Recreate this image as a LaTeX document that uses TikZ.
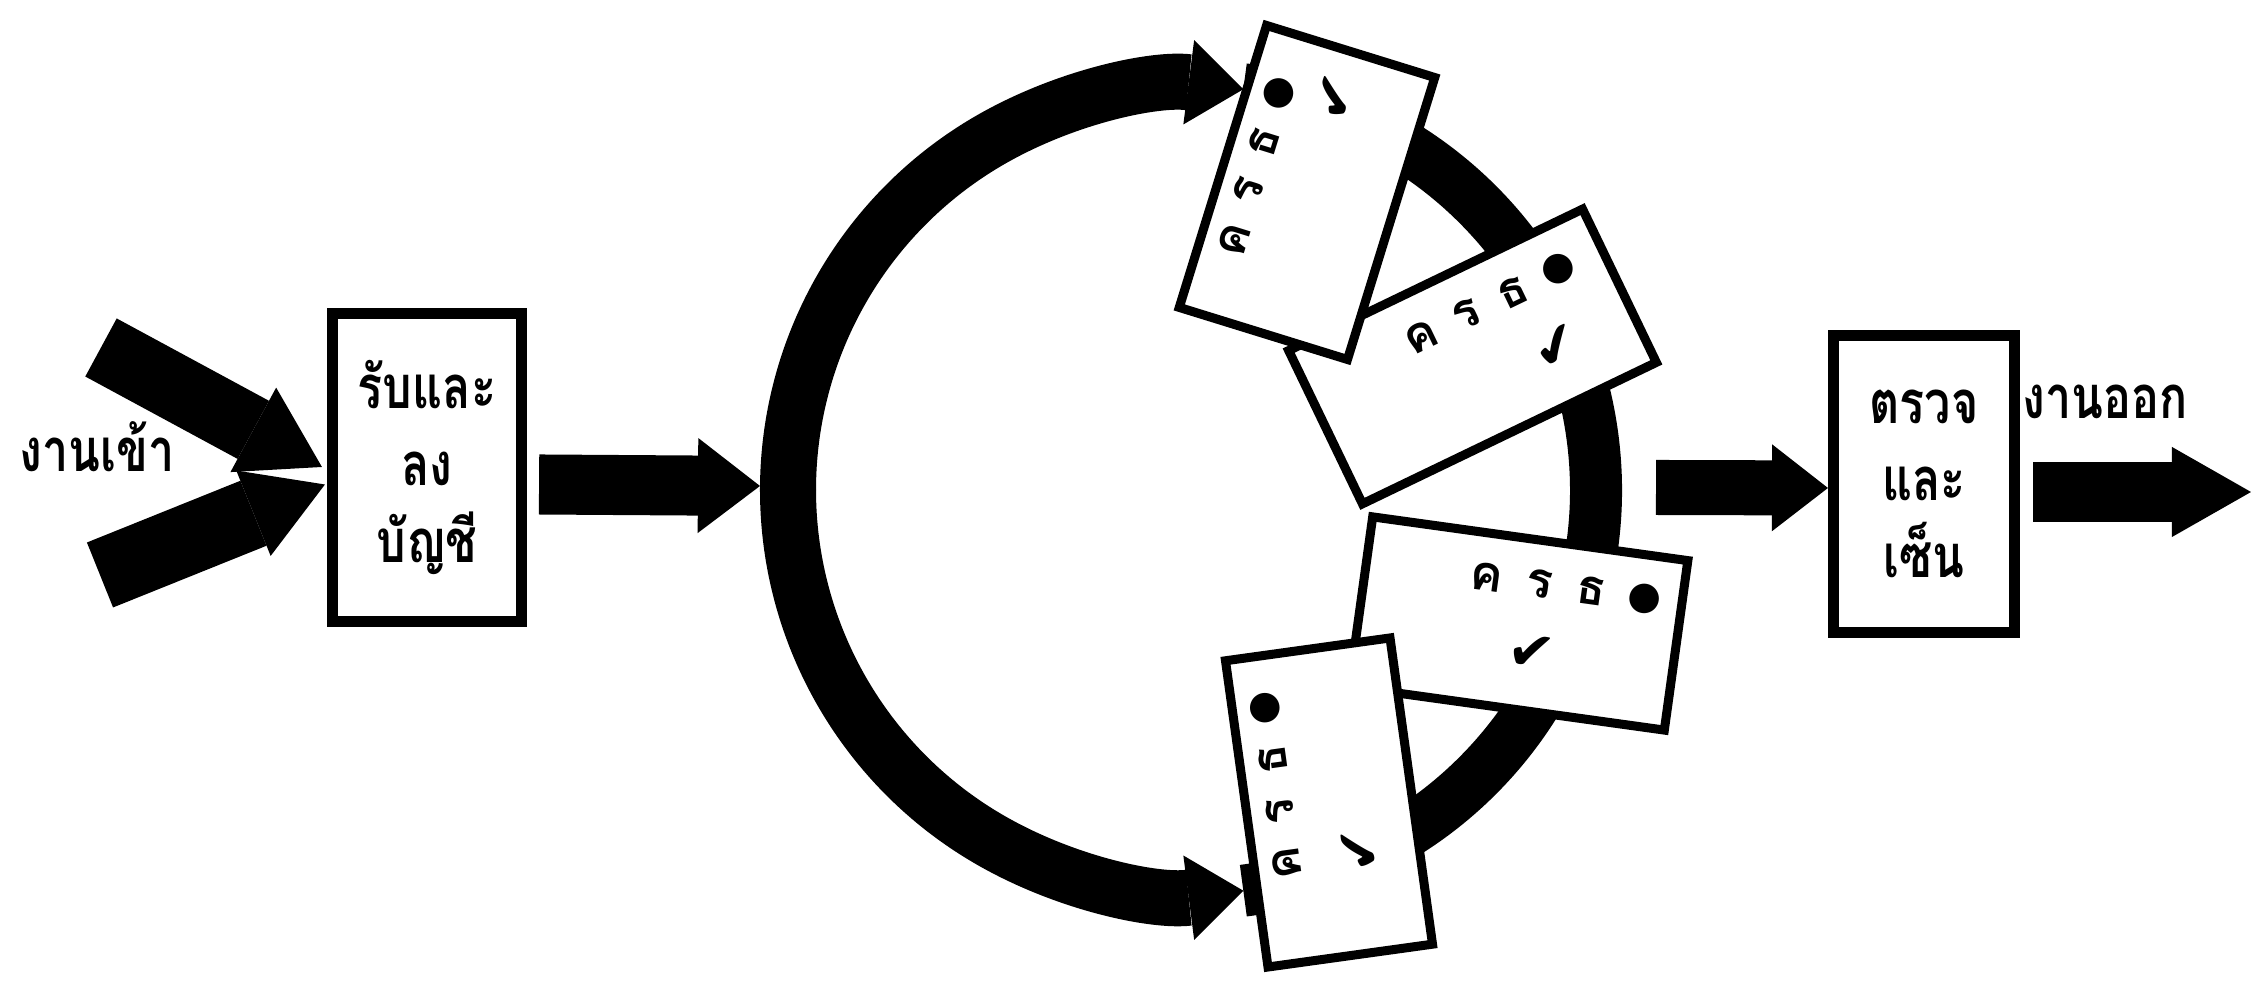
\documentclass[tikz,border=0pt]{standalone}
\usepackage{fontspec}
\newfontfamily\thaifont[Script=Thai]{Loma}
\newfontfamily\thaicond[Script=Thai, FakeStretch=0.78]{Loma}
\newfontfamily\symfont{DejaVu Sans}
\usetikzlibrary{arrows.meta,calc}
\tikzset{
  box/.style={draw, line width=0.11cm, rectangle, inner sep=0pt, align=center,
    font=\thaicond\bfseries\fontsize{17}{22}\selectfont},
  lbl/.style={inner sep=0pt, font=\thaicond\bfseries\fontsize{17}{20}\selectfont},
  barrow/.style n args={3}{line width=#1, -{Triangle[length=#2, width=#3, line width=0pt]}},
  card/.style={draw, fill=white, line width=0.09cm, rectangle, inner sep=0pt, transform shape},
  glyph/.style={inner sep=0pt, transform shape, font=\thaifont\bfseries\fontsize{14}{14}\selectfont},
  dotg/.style={inner sep=0pt, transform shape, font=\symfont\fontsize{11}{11}\selectfont},
  tick/.style={inner sep=0pt, transform shape, font=\symfont\fontsize{16}{16}\selectfont}
}
\begin{document}
\begin{tikzpicture}[x=0.01cm,y=0.01cm]
\fill[white] (0,0) rectangle (2251,983);
\useasboundingbox (0,0) rectangle (2251,983);

% ring
\coordinate (rc) at (1192,493);
\coordinate (ringL) at (760,497);
\draw[line width=0.52cm] ($(rc)+(-82.7:404)$) arc[start angle=-82.7, end angle=82.7, radius=404];
\draw[barrow={0.56cm}{0.55cm}{0.85cm}] ($(rc)+(180:404)$) arc[start angle=180, end angle=82.7, radius=404];
\draw[barrow={0.56cm}{0.55cm}{0.85cm}] ($(rc)+(180:404)$) arc[start angle=180, end angle=277.3, radius=404];

% card C
\begin{scope}[shift={(1518.5,359.5)}, rotate=-7.9]
  \node[card, minimum width=3.18cm, minimum height=1.71cm] (cC) at (0,0) {};
  \foreach \g [count=\i] in {ค,ร,ธ} \node[glyph] (cC\i) at ({-38+53*(\i-1)},42) {\g};
  \node[dotg] (cC4) at (121,42) {●};
  \node[tick] (cCt) at (17,-28) {✔};
\end{scope}
% card D
\begin{scope}[shift={(1329,180.5)}, rotate=97.9]
  \node[card, minimum width=3.09cm, minimum height=1.66cm] (cD) at (0,0) {};
  \foreach \g [count=\i] in {ค,ร,ธ} \node[glyph] (cD\i) at ({-54+52*(\i-1)},50) {\g};
  \node[dotg] (cD4) at (102,50) {●};
  \node[tick] (cDt) at (-51,-25) {✔};
\end{scope}
% card B
\begin{scope}[shift={(1472.5,626.5)}, rotate=25.7]
  \node[card, minimum width=3.26cm, minimum height=1.70cm] (cB) at (0,0) {};
  \foreach \g [count=\i] in {ค,ร,ธ} \node[glyph] (cB\i) at ({-38+51*(\i-1)},40) {\g};
  \node[dotg] (cB4) at (115,42) {●};
  \node[tick] (cBt) at (80,-28) {✔};
\end{scope}
% card A
\begin{scope}[shift={(1307,790.5)}, rotate=72.8]
  \node[card, minimum width=2.95cm, minimum height=1.76cm] (cA) at (0,0) {};
  \foreach \g [count=\i] in {ค,ร,ธ} \node[glyph] (cA\i) at ({-67+51*(\i-1)},56) {\g};
  \node[dotg] (cA4) at (86,56) {●};
  \node[tick] (cAt) at (99,0) {✔};
\end{scope}

% boxes
\node[box, minimum width=1.89cm, minimum height=3.08cm] (b1) at (427,515.5) {รับและ\\ลง\\บัญชี};
\node[box, minimum width=1.81cm, minimum height=2.97cm] (b2) at (1924,499) {ตรวจ\\และ\\เซ็น};

% labels
\node[lbl] (lin) at (97,536) {งานเข้า};
\node[lbl] (lout) at (2105,581) {งานออก};

% arrows
\coordinate (t1) at (101,635.5);
\coordinate (t2) at (100,408);
\coordinate (a3) at (1656,495.5);
\coordinate (oend) at (2251,491);
\draw[barrow={0.66cm}{0.78cm}{0.96cm}] (t1) -- ($(b1.west)+(-5,0.5)$);
\draw[barrow={0.70cm}{0.77cm}{0.92cm}] (t2) -- ($(b1.west)+(-2,-17)$);
\draw[barrow={0.60cm}{0.62cm}{0.95cm}] ($(b1.east)+(12,-17)$) -- (ringL);
\draw[barrow={0.55cm}{0.56cm}{0.87cm}] (a3) -- ($(b2.west)+(0,-4)$);
\draw[barrow={0.60cm}{0.79cm}{0.90cm}] ($(b2.east)+(13,-8)$) -- (oend);
\end{tikzpicture}
\end{document}
